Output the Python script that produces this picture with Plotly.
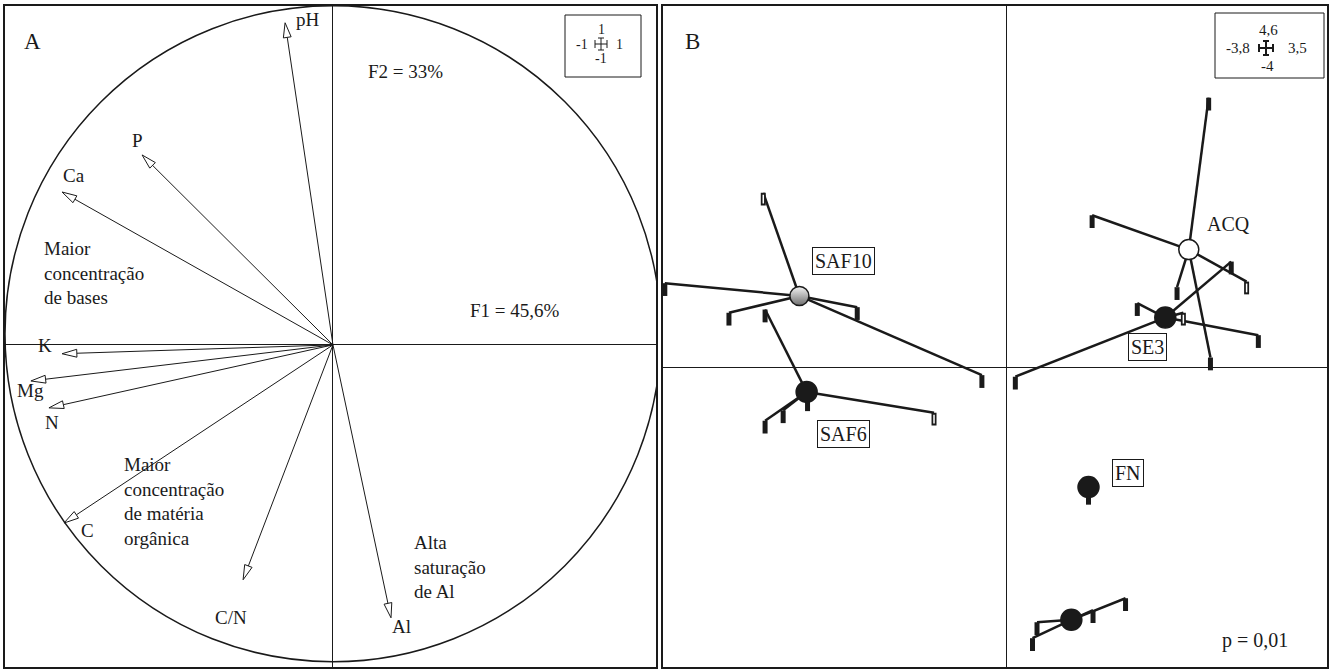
import numpy as np
import plotly.graph_objects as go

# ---- panel A : correlation circle (F1 x F2) ----
var_names = ["pH", "P", "Ca", "K", "Mg", "N", "C", "C/N", "Al"]
var_f1 = [-0.146, -0.582, -0.826, -0.826, -0.921, -0.866, -0.820, -0.274, 0.177]
var_f2 = [0.982, 0.579, 0.466, -0.027, -0.110, -0.192, -0.543, -0.716, -0.832]

# ---- panel B : samples (stars) ----
groups = ["SAF10", "SAF6", "ACQ", "SE3", "FN", "-"]
cent_x = [-2.29, -2.21, 2.02, 1.76, 0.91, 0.72]
cent_y = [0.90, -0.30, 1.48, 0.63, -1.49, -3.15]
ends_x = [
    [-2.69, -3.78, -3.07, -1.65, -0.27],
    [-2.67, -0.80, -2.67, -2.47, -2.20],
    [2.24, 0.95, 1.89, 2.66, 2.26],
    [2.49, 1.45, 1.96, 2.79, 0.10],
    [0.91],
    [1.32, 0.96, 0.34, 0.29],
]
ends_y = [
    [2.19, 1.06, 0.69, 0.76, -0.09],
    [0.73, -0.56, -0.66, -0.53, -0.38],
    [3.38, 1.91, 1.01, 1.08, 0.13],
    [1.33, 0.81, 0.69, 0.41, -0.11],
    [-1.55],
    [-2.88, -3.03, -3.18, -3.38],
]

W, H = 1329, 669
FONT = "'Liberation Serif', 'Times New Roman', 'DejaVu Serif', serif"
INK = "#1a1a1a"


def px(x, y):
    return x / W, 1 - y / H


fig = go.Figure()

# arrows of panel A
for name, fx, fy in zip(var_names, var_f1, var_f2):
    L = np.hypot(fx, fy)
    ux, uy = fx / L, fy / L
    hl, hw = 0.045, 0.012
    bx, by = fx - hl * ux, fy - hl * uy
    fig.add_trace(go.Scatter(x=[0, bx], y=[0, by], mode="lines",
                             line=dict(color=INK, width=1), xaxis="x", yaxis="y"))
    fig.add_trace(go.Scatter(x=[fx, bx - hw * uy, bx + hw * uy, fx],
                             y=[fy, by + hw * ux, by - hw * ux, fy],
                             mode="lines", fill="toself", fillcolor="white",
                             line=dict(color=INK, width=1), xaxis="x", yaxis="y"))

label_shift = {"pH": (23, 3), "P": (-5, 14), "Ca": (12, 17), "K": (-17, 8),
               "Mg": (0, -10), "N": (3, -15), "C": (23, -8), "C/N": (-12, -38),
               "Al": (10, -9)}
annotations = []
for name, fx, fy in zip(var_names, var_f1, var_f2):
    dx, dy = label_shift[name]
    annotations.append(dict(x=fx, y=fy, xref="x", yref="y", text=name, showarrow=False,
                            xanchor="center", yanchor="middle",
                            xshift=dx, yshift=dy, font=dict(family=FONT, size=19, color=INK)))

# stars of panel B
hollow = {(0, 0), (1, 1), (3, 2), (2, 3)}
bar = 0.16
for g, (cx, cy, ex, ey) in enumerate(zip(cent_x, cent_y, ends_x, ends_y)):
    lx, ly = [], []
    for x, y in zip(ex, ey):
        lx += [cx, x, None]
        ly += [cy, y, None]
    fig.add_trace(go.Scatter(x=lx, y=ly, mode="lines", line=dict(color=INK, width=2.5),
                             xaxis="x2", yaxis="y2"))
    fig.add_trace(go.Scatter(x=ex, y=ey, mode="markers", marker=dict(size=1, opacity=0),
                             error_y=dict(type="data", symmetric=False, array=[0] * len(ey),
                                          arrayminus=[bar] * len(ey), thickness=5, width=0,
                                          color=INK),
                             xaxis="x2", yaxis="y2"))
    hx = [x for i, x in enumerate(ex) if (g, i) in hollow]
    hy = [y - 0.025 for i, y in enumerate(ey) if (g, i) in hollow]
    if hx:
        fig.add_trace(go.Scatter(x=hx, y=hy, mode="markers", marker=dict(size=1, opacity=0),
                                 error_y=dict(type="data", symmetric=False, array=[0] * len(hy),
                                              arrayminus=[bar - 0.05] * len(hy), thickness=1.5,
                                              width=0, color="white"),
                                 xaxis="x2", yaxis="y2"))

cent_style = [
    dict(size=19, color="#f4f4f4", gradient=dict(type="vertical", color="#6e6e6e")),
    dict(size=21, color=INK),
    dict(size=20, color="white"),
    dict(size=21, color=INK),
    dict(size=21, color=INK),
    dict(size=21, color=INK),
]
for cx, cy, st in zip(cent_x, cent_y, cent_style):
    fig.add_trace(go.Scatter(x=[cx], y=[cy], mode="markers",
                             marker=dict(line=dict(color=INK, width=1.5), **st),
                             xaxis="x2", yaxis="y2"))

box_labels = [("SAF10", -1.80, 1.34, True), ("SAF6", -1.80, -0.82, True),
              ("ACQ", 2.46, 1.80, False), ("SE3", 1.56, 0.26, True), ("FN", 1.35, -1.31, True)]
for t, x, y, boxed in box_labels:
    annotations.append(dict(x=x, y=y, xref="x2", yref="y2", text=t, showarrow=False,
                            xanchor="center", yanchor="middle",
                            font=dict(family=FONT, size=20, color=INK),
                            bordercolor=INK if boxed else "rgba(0,0,0,0)", borderwidth=1,
                            borderpad=2, bgcolor="white" if boxed else "rgba(0,0,0,0)"))


def note(x, y, text, size=19, align="center", xanchor="center"):
    ax, ay = px(x, y)
    annotations.append(dict(x=ax, y=ay, xref="paper", yref="paper", text=text, showarrow=False,
                            align=align, xanchor=xanchor, yanchor="middle",
                            font=dict(family=FONT, size=size, color=INK)))


note(32, 42, "A", size=23)
note(692, 42, "B", size=23)
note(405, 72, "F2 = 33%")
note(515, 311, "F1 = 45,6%")
note(42, 273, "Maior<br>concentração<br>de bases", align="left", xanchor="left")
note(122, 501, "Maior<br>concentração<br>de matéria<br>orgânica", align="left", xanchor="left")
note(412, 567, "Alta<br>saturação<br>de Al", align="left", xanchor="left")
note(1255, 640, "p = 0,01", size=20)

# small scale insets
note(601, 29, "1", size=14)
note(582, 44, "-1", size=14)
note(619, 44, "1", size=14)
note(601, 59, "-1", size=14)
note(1268, 30, "4,6", size=15)
note(1238, 48, "-3,8", size=15)
note(1297, 48, "3,5", size=15)
note(1267, 66, "-4", size=15)

shapes = [dict(type="circle", xref="x", yref="y", x0=-1, x1=1, y0=-0.966, y1=1.034,
               line=dict(color=INK, width=1.5))]


def pline(x0, y0, x1, y1, w=1):
    a0, b0 = px(x0, y0)
    a1, b1 = px(x1, y1)
    shapes.append(dict(type="line", xref="paper", yref="paper", x0=a0, y0=b0, x1=a1, y1=b1,
                       line=dict(color=INK, width=w)))


def prect(x0, y0, x1, y1):
    a0, b0 = px(x0, y0)
    a1, b1 = px(x1, y1)
    shapes.append(dict(type="rect", xref="paper", yref="paper", x0=a0, y0=b0, x1=a1, y1=b1,
                       line=dict(color=INK, width=1)))


prect(565, 15, 641, 77)
prect(1215, 13, 1324, 78)
for (cx, cy, r, w) in [(601, 44, 6, 1), (1266, 48, 7, 2)]:
    pline(cx - r, cy, cx + r, cy, w)
    pline(cx, cy - r, cx, cy + r, w)
    pline(cx - r, cy - 4, cx - r, cy + 4, w)
    pline(cx + r, cy - 4, cx + r, cy + 4, w)
    pline(cx - 3, cy - r, cx + 3, cy - r, w)
    pline(cx - 3, cy + r, cx + 3, cy + r, w)

ax_common = dict(showgrid=False, showticklabels=False, ticks="", zeroline=True,
                 zerolinecolor=INK, zerolinewidth=1, showline=True, mirror=True,
                 linecolor=INK, linewidth=1.5)
ydom = [1 - 667 / H, 1 - 5.7 / H]
fig.update_layout(
    width=W, height=H, margin=dict(l=0, r=0, t=0, b=0),
    paper_bgcolor="white", plot_bgcolor="white", showlegend=False,
    xaxis=dict(domain=[5 / W, 656 / W], range=[-1.0, 0.985], **ax_common),
    yaxis=dict(domain=ydom, range=[-0.982, 1.034], anchor="x", **ax_common),
    xaxis2=dict(domain=[663 / W, 1327 / W], range=[-3.8, 3.55], anchor="y2", **ax_common),
    yaxis2=dict(domain=ydom, range=[-3.74, 4.53], anchor="x2", **ax_common),
    annotations=annotations, shapes=shapes,
)

fig.write_html("out.html", config={"displayModeBar": False},
               post_script="document.body.style.margin='0px';")
